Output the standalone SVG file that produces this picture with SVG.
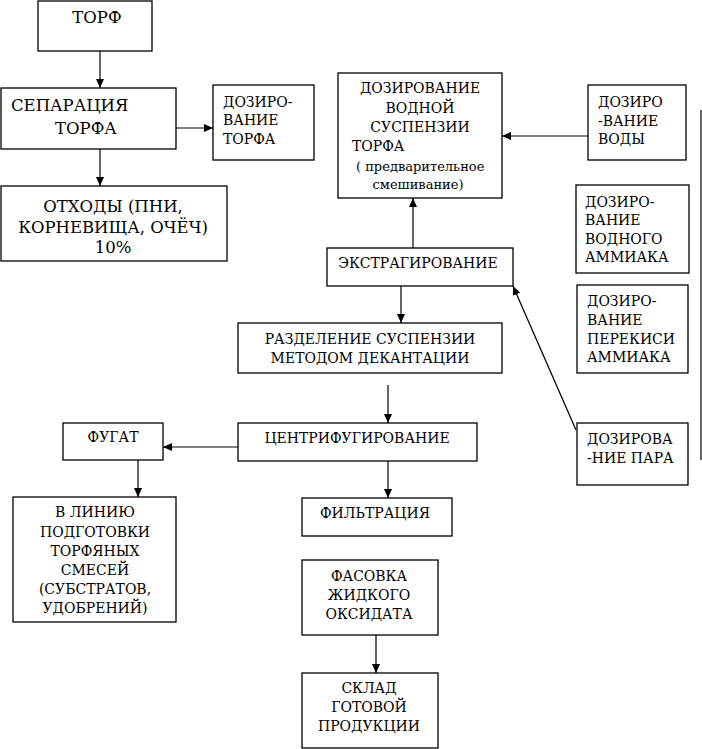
<svg xmlns="http://www.w3.org/2000/svg" width="702" height="749" viewBox="0 0 702 749">
<style>
.box{fill:#fff;stroke:#000;stroke-width:1.3}
.t{font-family:"DejaVu Serif","Liberation Serif",serif;font-size:14px;fill:#000}
.big{font-size:16.5px}
.sm{font-size:13px}
.m{text-anchor:middle}
.c{stroke:#000;stroke-width:1.2;fill:none}
</style>
<defs>
<marker id="ah" markerUnits="userSpaceOnUse" markerWidth="10" markerHeight="10" refX="9" refY="4" orient="auto">
<path d="M0,0 L9,4 L0,8 z" fill="#000"/>
</marker>
</defs>
<rect width="702" height="749" fill="#fff"/>
<g id="connectors">
<line class="c" x1="100" y1="51" x2="100" y2="88" marker-end="url(#ah)"/>
<line class="c" x1="176" y1="128" x2="213" y2="128" marker-end="url(#ah)"/>
<line class="c" x1="100" y1="149" x2="100" y2="186" marker-end="url(#ah)"/>
<line class="c" x1="588" y1="136" x2="502" y2="136" marker-end="url(#ah)"/>
<line class="c" x1="413" y1="248" x2="413" y2="198" marker-end="url(#ah)"/>
<line class="c" x1="401" y1="286" x2="401" y2="323" marker-end="url(#ah)"/>
<line class="c" x1="576" y1="430" x2="513" y2="286" marker-end="url(#ah)"/>
<line class="c" x1="388" y1="385" x2="388" y2="423" marker-end="url(#ah)"/>
<line class="c" x1="238" y1="447" x2="163" y2="447" marker-end="url(#ah)"/>
<line class="c" x1="138" y1="460" x2="138" y2="497" marker-end="url(#ah)"/>
<line class="c" x1="388" y1="461" x2="388" y2="498" marker-end="url(#ah)"/>
<line class="c" x1="376" y1="635" x2="376" y2="673" marker-end="url(#ah)"/>
<line class="c" x1="701" y1="110" x2="701" y2="460"/>
</g>
<g id="n-torf">
<rect class="box" x="38" y="1" width="114" height="50"/>
<text class="t big m" x="97" y="23">ТОРФ</text>
</g>
<g id="n-separ">
<rect class="box" x="1" y="88" width="175" height="61"/>
<text class="t big" x="11" y="111">СЕПАРАЦИЯ</text>
<text class="t big" x="55" y="134">ТОРФА</text>
</g>
<g id="n-doz-torf">
<rect class="box" x="213" y="85" width="101" height="75"/>
<text class="t" x="223" y="107">ДОЗИРО-</text>
<text class="t" x="223" y="125">ВАНИЕ</text>
<text class="t" x="223" y="144">ТОРФА</text>
</g>
<g id="n-othody">
<rect class="box" x="1" y="186" width="226" height="75"/>
<text class="t big m" x="113" y="212">ОТХОДЫ (ПНИ,</text>
<text class="t big m" x="113" y="233">КОРНЕВИЩА, ОЧЁЧ)</text>
<text class="t big m" x="113" y="253">10%</text>
</g>
<g id="n-doz-susp">
<rect class="box" x="338" y="73" width="164" height="125"/>
<text class="t m" x="420" y="93">ДОЗИРОВАНИЕ</text>
<text class="t m" x="420" y="113">ВОДНОЙ</text>
<text class="t m" x="420" y="132">СУСПЕНЗИИ</text>
<text class="t" x="352" y="151">ТОРФА</text>
<text class="t sm" x="356" y="171">( предварительное</text>
<text class="t sm m" x="418" y="189">смешивание)</text>
</g>
<g id="n-doz-vody">
<rect class="box" x="588" y="85" width="98" height="75"/>
<text class="t" x="598" y="107">ДОЗИРО</text>
<text class="t" x="598" y="126">-ВАНИЕ</text>
<text class="t" x="598" y="144">ВОДЫ</text>
</g>
<g id="n-doz-amm">
<rect class="box" x="576" y="185" width="113" height="88"/>
<text class="t" x="585" y="207">ДОЗИРО-</text>
<text class="t" x="585" y="225">ВАНИЕ</text>
<text class="t" x="585" y="244">ВОДНОГО</text>
<text class="t" x="585" y="262">АММИАКА</text>
</g>
<g id="n-extr">
<rect class="box" x="327" y="248" width="186" height="38"/>
<text class="t m" x="418" y="268">ЭКСТРАГИРОВАНИЕ</text>
</g>
<g id="n-doz-perek">
<rect class="box" x="577" y="285" width="111" height="88"/>
<text class="t" x="587" y="306">ДОЗИРО-</text>
<text class="t" x="587" y="325">ВАНИЕ</text>
<text class="t" x="587" y="344">ПЕРЕКИСИ</text>
<text class="t" x="587" y="362">АММИАКА</text>
</g>
<g id="n-razdel">
<rect class="box" x="238" y="323" width="264" height="50"/>
<text class="t m" x="370" y="344">РАЗДЕЛЕНИЕ СУСПЕНЗИИ</text>
<text class="t m" x="370" y="363">МЕТОДОМ ДЕКАНТАЦИИ</text>
</g>
<g id="n-centr">
<rect class="box" x="238" y="423" width="239" height="38"/>
<text class="t m" x="357" y="443">ЦЕНТРИФУГИРОВАНИЕ</text>
</g>
<g id="n-doz-para">
<rect class="box" x="577" y="423" width="111" height="62"/>
<text class="t" x="587" y="444">ДОЗИРОВА</text>
<text class="t" x="587" y="463">-НИЕ ПАРА</text>
</g>
<g id="n-fugat">
<rect class="box" x="63" y="423" width="100" height="37"/>
<text class="t m" x="113" y="442">ФУГАТ</text>
</g>
<g id="n-liniyu">
<rect class="box" x="13" y="497" width="163" height="125"/>
<text class="t m" x="95" y="517">В ЛИНИЮ</text>
<text class="t m" x="95" y="537">ПОДГОТОВКИ</text>
<text class="t m" x="95" y="556">ТОРФЯНЫХ</text>
<text class="t m" x="95" y="575">СМЕСЕЙ</text>
<text class="t m" x="95" y="594">(СУБСТРАТОВ,</text>
<text class="t m" x="95" y="613">УДОБРЕНИЙ)</text>
</g>
<g id="n-filtr">
<rect class="box" x="302" y="498" width="150" height="38"/>
<text class="t m" x="375" y="518">ФИЛЬТРАЦИЯ</text>
</g>
<g id="n-fasovka">
<rect class="box" x="302" y="560" width="136" height="75"/>
<text class="t m" x="369" y="581">ФАСОВКА</text>
<text class="t m" x="369" y="600">ЖИДКОГО</text>
<text class="t m" x="369" y="619">ОКСИДАТА</text>
</g>
<g id="n-sklad">
<rect class="box" x="302" y="673" width="136" height="75"/>
<text class="t m" x="369" y="693">СКЛАД</text>
<text class="t m" x="369" y="712">ГОТОВОЙ</text>
<text class="t m" x="369" y="731">ПРОДУКЦИИ</text>
</g>
</svg>
